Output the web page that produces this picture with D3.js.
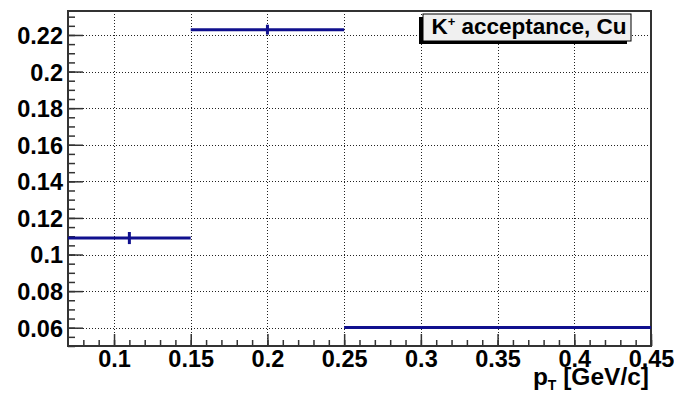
<!DOCTYPE html>
<html>
<head>
<meta charset="utf-8">
<script src="https://cdn.jsdelivr.net/npm/d3@7"></script>
<style>
  html, body { margin: 0; padding: 0; background: #fff; }
  svg { display: block; font-family: "Liberation Sans", Arial, Helvetica, sans-serif; font-weight: bold; }
</style>
</head>
<body>
<svg id="chart" width="674" height="395"></svg>
<script>
// Histogram bins (pT, GeV/c) and K+ acceptance per bin
const binLow = [0.07, 0.15, 0.25];
const binHigh = [0.15, 0.25, 0.45];
const acceptance = [0.109, 0.2229, 0.0601];
const acceptanceErr = [0.0033, 0.0027, 0.0006];

const xTicks = [0.1, 0.15, 0.2, 0.25, 0.3, 0.35, 0.4, 0.45];
const yTicks = [0.06, 0.08, 0.1, 0.12, 0.14, 0.16, 0.18, 0.2, 0.22];

const legendText = "acceptance, Cu";

const svg = d3.select("#chart");
const frame = { left: 68, right: 651, top: 11, bottom: 346 };

const x = d3.scaleLinear().domain([0.07, 0.45]).range([frame.left, frame.right]);
const y = d3.scaleLinear().domain([0.05, 0.2331]).range([frame.bottom, frame.top]);

const fmt = d => String(+d.toFixed(3));

// dotted grid at major ticks
const grid = svg.append("g").attr("stroke", "#222").attr("stroke-width", 1).attr("stroke-dasharray", "1,2");
grid.selectAll("line.gx").data(xTicks.filter(t => t < 0.45)).join("line")
  .attr("x1", d => Math.round(x(d)) + 0.5).attr("x2", d => Math.round(x(d)) + 0.5)
  .attr("y1", frame.top).attr("y2", frame.bottom);
grid.selectAll("line.gy").data(yTicks).join("line")
  .attr("x1", frame.left).attr("x2", frame.right)
  .attr("y1", d => Math.round(y(d)) + 0.5).attr("y2", d => Math.round(y(d)) + 0.5);

// minor ticks
const xMinor = d3.range(0.08, 0.4501, 0.01).map(v => +v.toFixed(3));
const yMinor = d3.range(0.05, 0.2331, 0.005).map(v => +v.toFixed(3));

const xAxisMinor = svg.append("g").attr("transform", `translate(0,${frame.bottom})`)
  .call(d3.axisBottom(x).tickValues(xMinor).tickSize(-6).tickFormat(""));
const yAxisMinor = svg.append("g").attr("transform", `translate(${frame.left},0)`)
  .call(d3.axisLeft(y).tickValues(yMinor).tickSize(-7).tickFormat(""));

const xAxis = svg.append("g").attr("transform", `translate(0,${frame.bottom})`)
  .call(d3.axisBottom(x).tickValues(xTicks).tickSize(-12).tickFormat(fmt));
const yAxis = svg.append("g").attr("transform", `translate(${frame.left},0)`)
  .call(d3.axisLeft(y).tickValues(yTicks).tickSize(-15).tickFormat(fmt));

[xAxisMinor, yAxisMinor, xAxis, yAxis].forEach(g => {
  g.attr("font-family", null).attr("font-size", 23.5);
  g.select(".domain").remove();
  g.selectAll(".tick line").attr("stroke", "#333").attr("stroke-width", 1.5);
});
xAxis.selectAll(".tick text").attr("font-weight", "bold")
  .attr("fill", "#000").attr("dy", "0.71em").attr("y", 4);
yAxis.selectAll(".tick text").attr("font-weight", "bold")
  .attr("fill", "#000").attr("x", -5).attr("dy", "0.36em");

// frame
svg.append("rect")
  .attr("x", frame.left).attr("y", frame.top)
  .attr("width", frame.right - frame.left).attr("height", frame.bottom - frame.top)
  .attr("fill", "none").attr("stroke", "#333").attr("stroke-width", 2);

// histogram with error bars
const bins = binLow.map((lo, i) => ({
  lo, hi: binHigh[i], c: (lo + binHigh[i]) / 2, v: acceptance[i], e: acceptanceErr[i]
}));
const col = "#10108e";
const h = svg.append("g").attr("stroke", col).attr("stroke-width", 3);
h.selectAll("line.hz").data(bins).join("line")
  .attr("x1", d => x(d.lo)).attr("x2", d => x(d.hi))
  .attr("y1", d => y(d.v)).attr("y2", d => y(d.v));
h.selectAll("line.vt").data(bins).join("line")
  .attr("x1", d => x(d.c)).attr("x2", d => x(d.c))
  .attr("y1", d => y(d.v - d.e)).attr("y2", d => y(d.v + d.e));

// axis title
const title = svg.append("text").attr("x", 649).attr("y", 385)
  .attr("text-anchor", "end").attr("font-size", 24.5).attr("fill", "#000");
title.append("tspan").text("p");
title.append("tspan").attr("font-size", 14).attr("dy", 5).text("T");
title.append("tspan").attr("dy", -5).text(" [GeV/c]");

// legend box with shadow
const lg = { x: 423, y: 14, w: 208, h: 27 };
svg.append("rect").attr("x", lg.x - 4).attr("y", lg.y + 3).attr("width", lg.w).attr("height", lg.h).attr("fill", "#000");
svg.append("rect").attr("x", lg.x).attr("y", lg.y).attr("width", lg.w).attr("height", lg.h)
  .attr("fill", "#f0f0f0").attr("stroke", "#000").attr("stroke-width", 1);
const lt = svg.append("text").attr("x", lg.x + lg.w / 2 + 2).attr("y", lg.y + 19.5)
  .attr("text-anchor", "middle").attr("font-size", 22.5).attr("fill", "#000");
lt.append("tspan").text("K");
lt.append("tspan").attr("font-size", 13).attr("dy", -8).text("+");
lt.append("tspan").attr("dy", 8).text(" " + legendText);
</script>
</body>
</html>
